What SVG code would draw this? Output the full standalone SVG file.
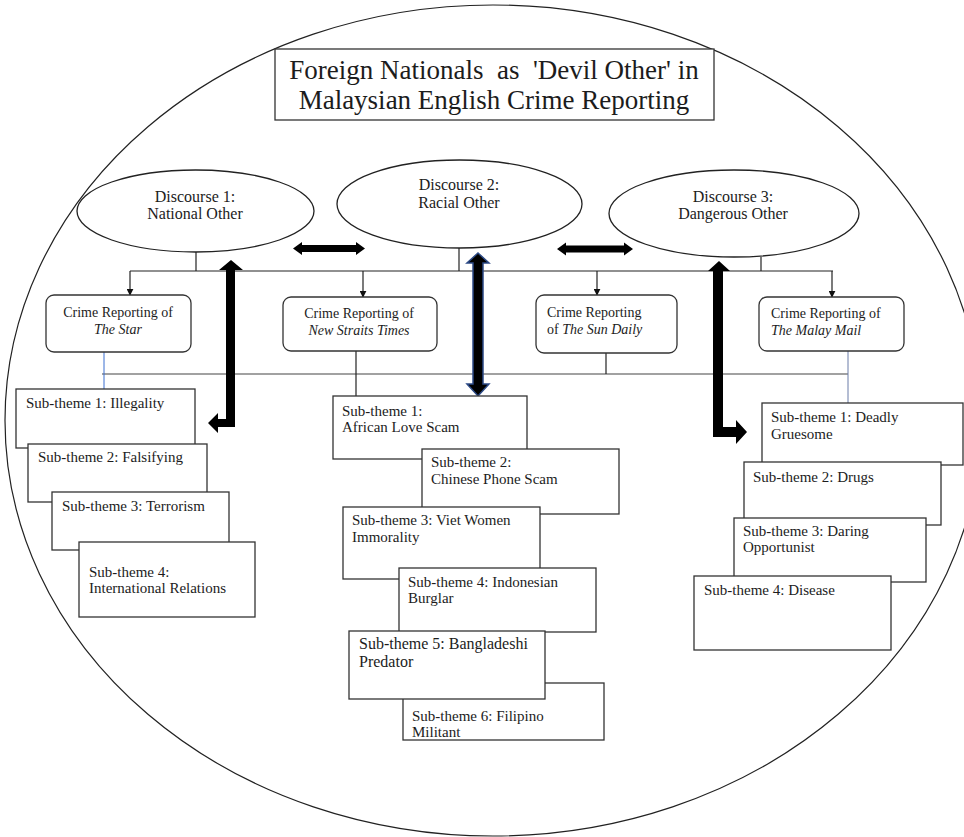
<svg xmlns="http://www.w3.org/2000/svg" width="964" height="837" viewBox="0 0 964 837">
<defs>
<style>
.t{font-family:"Liberation Serif","Times New Roman",serif;fill:#1c1c1c}
.ln{stroke:#222;stroke-width:1.2;fill:none}
.box{fill:#fff;stroke:#333;stroke-width:1.3}
.ell{fill:#fff;stroke:#222;stroke-width:1.3}
.big{fill:#000}
</style>
<marker id="ah" viewBox="0 0 10 10" refX="9" refY="5" markerWidth="7" markerHeight="7" markerUnits="userSpaceOnUse" orient="auto">
<path d="M0,0 L10,5 L0,10 z" fill="#111"/>
</marker>
</defs>
<rect width="964" height="837" fill="#fff"/>
<ellipse cx="493" cy="420.5" rx="488" ry="415.5" fill="#fff" stroke="#222" stroke-width="1.2"/>

<g id="title">
<rect x="275" y="49" width="439" height="71" fill="#fff" stroke="#333" stroke-width="1.3"/>
<text class="t" x="494" y="79" font-size="27" text-anchor="middle" xml:space="preserve">Foreign Nationals  as  'Devil Other' in</text>
<text class="t" x="494" y="109" font-size="27" text-anchor="middle">Malaysian English Crime Reporting</text>
</g>

<g id="connectors">
<line class="ln" x1="130" y1="271" x2="833" y2="271"/>
<line class="ln" x1="196" y1="252" x2="196" y2="271"/>
<line class="ln" x1="459" y1="248" x2="459" y2="271"/>
<line class="ln" x1="761" y1="257" x2="761" y2="271"/>
<line class="ln" x1="130" y1="271" x2="130" y2="295" marker-end="url(#ah)"/>
<line class="ln" x1="363" y1="271" x2="363" y2="297" marker-end="url(#ah)"/>
<line class="ln" x1="597" y1="271" x2="597" y2="295" marker-end="url(#ah)"/>
<line class="ln" x1="832" y1="271" x2="832" y2="297" marker-end="url(#ah)"/>
<line x1="102" y1="374" x2="848" y2="374" stroke="#444" stroke-width="1.2"/>
<line x1="104" y1="352" x2="104" y2="389" stroke="#3a6fd0" stroke-width="1"/>
<line class="ln" x1="356" y1="351" x2="356" y2="396"/>
<line class="ln" x1="606" y1="353" x2="606" y2="374"/>
<line x1="848" y1="351" x2="848" y2="403" stroke="#6b7da8" stroke-width="1"/>
<polygon class="big" points="293,248.5 302,242 302,245 356,245 356,242 365,248.5 356,255 356,252 302,252 302,255"/>
<polygon class="big" points="557,249 566,242.5 566,245.5 624,245.5 624,242.5 633,249 624,255.5 624,252.5 566,252.5 566,255.5"/>
<polygon class="big" points="231,260 243,270 235,270 235,427 218,427 218,433 208,423 218,413 218,419 226,419 226,270 219,270"/>
<polygon points="478,253 489,263 483,263 483,384 489,384 478,396 467,384 473,384 473,263 467,263" fill="#000" stroke="#2c4a86" stroke-width="1.5"/>
<polygon class="big" points="719,261 730,271 723,271 723,427 736,427 736,420 747,432 736,444 736,437 713,437 713,271 708,271"/>
</g>

<g id="discourse1">
<ellipse class="ell" cx="195.5" cy="211" rx="118.5" ry="41"/>
<text class="t" x="195" y="202" font-size="16" text-anchor="middle">Discourse 1:</text>
<text class="t" x="195" y="219" font-size="16" text-anchor="middle">National Other</text>
</g>
<g id="discourse2">
<ellipse class="ell" cx="459.5" cy="204" rx="122.5" ry="44"/>
<text class="t" x="459" y="190" font-size="16" text-anchor="middle">Discourse 2:</text>
<text class="t" x="459" y="208" font-size="16" text-anchor="middle">Racial Other</text>
</g>
<g id="discourse3">
<ellipse class="ell" cx="734" cy="213.5" rx="125" ry="43.5"/>
<text class="t" x="733" y="202" font-size="16" text-anchor="middle">Discourse 3:</text>
<text class="t" x="733" y="219" font-size="16" text-anchor="middle">Dangerous Other</text>
</g>

<g id="cr-star">
<rect class="box" x="46" y="295" width="145" height="57" rx="8"/>
<text class="t" x="118" y="317" font-size="14" text-anchor="middle">Crime Reporting of</text>
<text class="t" x="118" y="334" font-size="14" text-anchor="middle" font-style="italic">The Star</text>
</g>
<g id="cr-nst">
<rect class="box" x="283" y="297" width="154" height="54" rx="8"/>
<text class="t" x="359" y="318" font-size="14" text-anchor="middle">Crime Reporting of</text>
<text class="t" x="359" y="335" font-size="14" text-anchor="middle" font-style="italic">New Straits Times</text>
</g>
<g id="cr-sun">
<rect class="box" x="536" y="295" width="141" height="58" rx="8"/>
<text class="t" x="547" y="317" font-size="14">Crime Reporting</text>
<text class="t" x="547" y="334" font-size="14">of <tspan font-style="italic">The Sun Daily</tspan></text>
</g>
<g id="cr-mail">
<rect class="box" x="759" y="297" width="145" height="54" rx="8"/>
<text class="t" x="771" y="318" font-size="14">Crime Reporting of</text>
<text class="t" x="771" y="335" font-size="14" font-style="italic">The Malay Mail</text>
</g>

<g id="l1"><rect class="box" x="16" y="389" width="179" height="59"/><text class="t" x="26" y="408" font-size="15">Sub-theme 1: Illegality</text></g>
<g id="l2"><rect class="box" x="28" y="444" width="179" height="58"/><text class="t" x="38" y="462" font-size="15">Sub-theme 2: Falsifying</text></g>
<g id="l3"><rect class="box" x="52" y="492" width="177" height="58"/><text class="t" x="62" y="511" font-size="15">Sub-theme 3: Terrorism</text></g>
<g id="l4"><rect class="box" x="79" y="542" width="176" height="75"/><text class="t" x="89" y="577" font-size="15">Sub-theme 4:</text><text class="t" x="89" y="593" font-size="15">International Relations</text></g>

<g id="m1"><rect class="box" x="333" y="396" width="194" height="63"/><text class="t" x="342" y="416" font-size="15">Sub-theme 1:</text><text class="t" x="342" y="432" font-size="15">African Love Scam</text></g>
<g id="m2"><rect class="box" x="422" y="449" width="197" height="65"/><text class="t" x="431" y="467" font-size="15">Sub-theme 2:</text><text class="t" x="431" y="484" font-size="15">Chinese Phone Scam</text></g>
<g id="m3"><rect class="box" x="343" y="507" width="197" height="72"/><text class="t" x="352" y="525" font-size="15">Sub-theme 3: Viet Women</text><text class="t" x="352" y="542" font-size="15">Immorality</text></g>
<g id="m4"><rect class="box" x="399" y="568" width="197" height="64"/><text class="t" x="408" y="587" font-size="15">Sub-theme 4: Indonesian</text><text class="t" x="408" y="603" font-size="15">Burglar</text></g>
<g id="m6"><rect class="box" x="403" y="683" width="201" height="57"/><text class="t" x="412" y="721" font-size="15">Sub-theme 6: Filipino</text><text class="t" x="412" y="737" font-size="15">Militant</text></g>
<g id="m5"><rect class="box" x="349" y="631" width="196" height="68"/><text class="t" x="359" y="649" font-size="16">Sub-theme 5: Bangladeshi</text><text class="t" x="359" y="667" font-size="16">Predator</text></g>

<g id="r1"><rect class="box" x="762" y="403" width="201" height="62"/><text class="t" x="771" y="422" font-size="15">Sub-theme 1: Deadly</text><text class="t" x="771" y="439" font-size="15">Gruesome</text></g>
<g id="r2"><rect class="box" x="744" y="462" width="197" height="63"/><text class="t" x="753" y="482" font-size="15">Sub-theme 2: Drugs</text></g>
<g id="r3"><rect class="box" x="734" y="518" width="192" height="64"/><text class="t" x="743" y="536" font-size="15">Sub-theme 3: Daring</text><text class="t" x="743" y="552" font-size="15">Opportunist</text></g>
<g id="r4"><rect class="box" x="694" y="576" width="197" height="74"/><text class="t" x="704" y="595" font-size="15">Sub-theme 4: Disease</text></g>
</svg>
